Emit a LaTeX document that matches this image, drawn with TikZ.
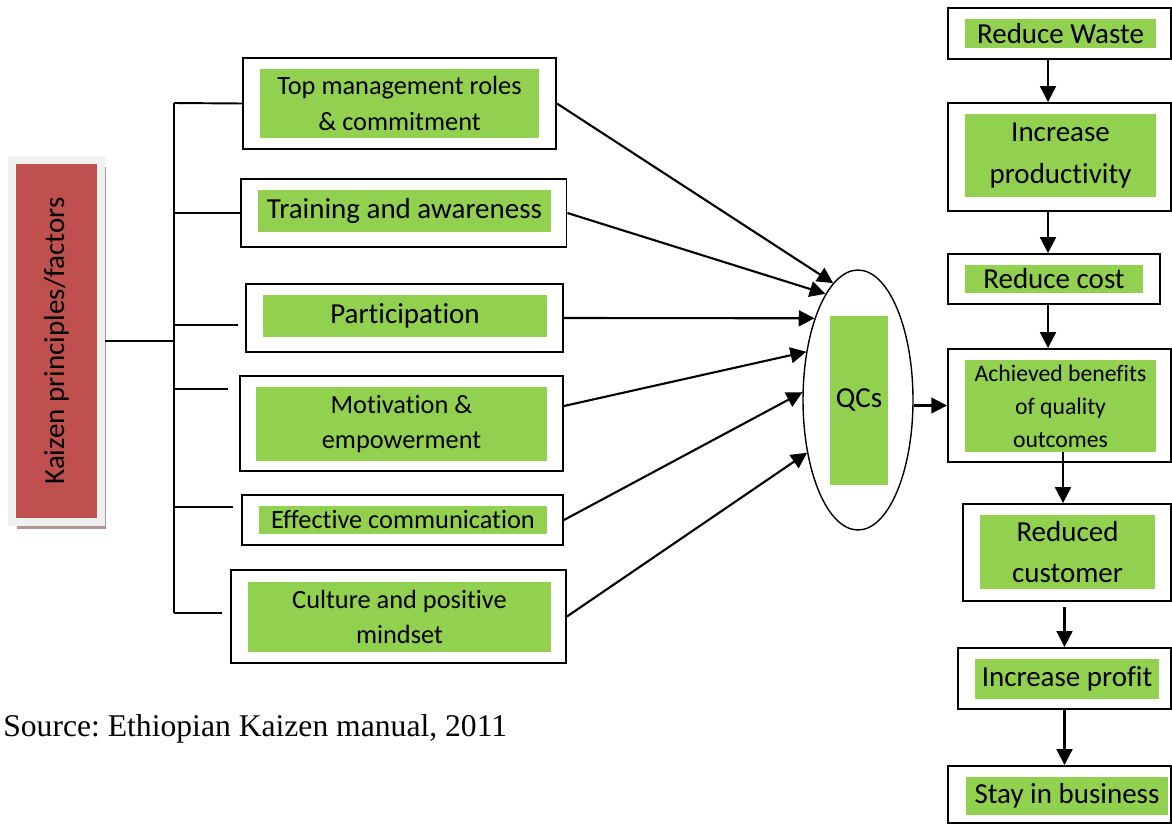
\documentclass[tikz,border=0pt]{standalone}
\usepackage{graphicx}
\usepackage{fontspec}
\setmainfont{Carlito}[Ligatures=NoCommon]
\newfontfamily\srcfont{Liberation Serif}
\usetikzlibrary{arrows.meta,shapes.geometric,shadows}
\definecolor{kgreen}{HTML}{92D050}
\definecolor{kred}{HTML}{C0504D}
\definecolor{kshade}{HTML}{B39494}

\begin{document}
\begin{tikzpicture}[
  x=0.02cm, y=-0.02cm,
  frame/.style={draw, line width=1.1pt, inner sep=0pt},
  greenbox/.style={fill=kgreen, inner sep=0pt, align=center},
  big/.style={font=\fontsize{16.5}{23.8}\selectfont},
  mid/.style={font=\fontsize{15}{20.4}\selectfont},
  small/.style={font=\fontsize{13.5}{18.7}\selectfont},
  arrow/.style={-{Triangle[length=9pt,width=9pt]}, line width=1.2pt},
  link/.style={line width=1.1pt}
]
\useasboundingbox (0,0) rectangle (1172,825);

% factor box
\node[draw=black!6, line width=4.5pt, fill=kred, inner sep=0pt, minimum width=1.78cm, minimum height=7.24cm, big,
  drop shadow={shadow xshift=0.1cm, shadow yshift=-0.14cm, fill=kshade, opacity=1}]
  (kz) at (56.5,341) {\rotatebox{90}{Kaizen principles/factors}};

% factors
\node[frame, minimum width=6.26cm, minimum height=1.82cm] (top) at (399.5,103.5) {};
\node[greenbox, mid, minimum width=5.6cm, minimum height=1.4cm] (topg) at (top) {Top management roles\\\& commitment};
\node[frame, minimum width=6.52cm, minimum height=1.36cm] (train) at (403.5,213) {};
\node[greenbox, big, minimum width=5.86cm, minimum height=0.84cm] (traing) at (404.5,211) {Training and awareness};
\node[frame, minimum width=6.34cm, minimum height=1.36cm] (part) at (404.5,318) {};
\node[greenbox, big, minimum width=5.68cm, minimum height=0.84cm] (partg) at (405,316) {Participation};
\node[frame, minimum width=6.46cm, minimum height=1.9cm] (motiv) at (401.5,423.5) {};
\node[greenbox, mid, minimum width=5.82cm, minimum height=1.48cm] (motivg) at (401.5,424) {Motivation \&\\empowerment};
\node[frame, minimum width=6.42cm, minimum height=1.0cm] (comm) at (402.5,520) {};
\node[greenbox, mid, minimum width=5.76cm, minimum height=0.56cm] (commg) at (403,520) {Effective communication};
\node[frame, minimum width=6.7cm, minimum height=1.86cm] (cult) at (398.5,616.5) {};
\node[greenbox, mid, minimum width=6.06cm, minimum height=1.4cm] (cultg) at (399.5,617) {Culture and positive\\mindset};

% quality circles
\node[draw, ellipse, line width=0.8pt, inner sep=0pt, minimum width=2.2cm, minimum height=5.2cm] (qc) at (858,400) {};
\node[greenbox, big, minimum width=1.16cm, minimum height=3.38cm] (qcg) at (859,400.5) {QCs};

% outcomes
\node[frame, minimum width=4.46cm, minimum height=1.02cm] (waste) at (1059.5,33.5) {};
\node[greenbox, big, minimum width=3.82cm, minimum height=0.58cm] (wasteg) at (1060.5,33.5) {Reduce Waste};
\node[frame, minimum width=4.46cm, minimum height=2.16cm] (prod) at (1059.5,157) {};
\node[greenbox, big, minimum width=3.82cm, minimum height=1.66cm] (prodg) at (1060.5,155.5) {Increase\\productivity};
\node[frame, minimum width=4.24cm, minimum height=1.0cm] (cost) at (1054,279) {};
\node[greenbox, big, minimum width=3.56cm, minimum height=0.56cm] (costg) at (1054,279) {Reduce cost};
\node[frame, minimum width=4.46cm, minimum height=2.26cm] (ach) at (1059.5,405.5) {};
\node[greenbox, small, minimum width=3.82cm, minimum height=1.84cm] (achg) at (1060.5,406) {Achieved benefits\\of quality\\outcomes};
\node[frame, minimum width=4.16cm, minimum height=1.94cm] (cust) at (1067,552.5) {};
\node[greenbox, big, minimum width=3.5cm, minimum height=1.48cm] (custg) at (1067.5,552) {Reduced\\customer};
\node[frame, minimum width=4.26cm, minimum height=1.22cm] (profit) at (1064.5,678.5) {};
\node[greenbox, big, minimum width=3.68cm, minimum height=0.8cm] (profitg) at (1067,679) {Increase profit};
\node[frame, minimum width=4.46cm, minimum height=1.14cm] (stay) at (1059.5,794.5) {};
\node[greenbox, big, minimum width=4.04cm, minimum height=0.76cm] (stayg) at (1067,796) {Stay in business};

\node[font=\srcfont\fontsize{18}{20}\selectfont, anchor=west, inner sep=0pt] (src) at (3,729) {Source:\ Ethiopian Kaizen manual, 2011};

% bracket
\coordinate (sp1) at (174,103);
\coordinate (sp2) at (174,613);
\coordinate (tk3) at (238,325);
\coordinate (tk4) at (228,389);
\coordinate (tk5) at (233,507);
\coordinate (tk6) at (222,613);
\draw[link] (sp1) -- (sp2);
\draw[link] (kz.east) -- (kz.east -| sp1);
\draw[link] (sp1) -- (top.west);
\draw[link] (sp1 |- train.west) -- (train.west);
\draw[link] (sp1 |- tk3) -- (tk3);
\draw[link] (sp1 |- tk4) -- (tk4);
\draw[link] (sp1 |- tk5) -- (tk5);
\draw[link] (sp1 |- tk6) -- (tk6);

% into the circle
\draw[arrow] (top.east) -- (qc.102);
\draw[arrow] (train.east) -- (qc.107);
\draw[arrow] (part.east) -- (qc.118);
\draw[arrow] ([yshift=0.35cm]motiv.east) -- (qc.137);
\draw[arrow] (comm.east) -- (qc.172);
\draw[arrow] (cult.east) -- (qc.226);
\draw[arrow] (qc.east |- ach.west) -- (ach.west);

% outcome chain
\draw[arrow] ([xshift=-0.23cm]waste.south) -- ([xshift=-0.23cm]prod.north);
\draw[arrow] ([xshift=-0.23cm]prod.south) -- ([xshift=-0.23cm]prod.south |- cost.north);
\draw[arrow] ([xshift=-0.12cm]cost.south) -- ([xshift=-0.12cm]cost.south |- ach.north);
\draw[arrow] ([xshift=-0.08cm]achg.south -| cust.north) -- ([xshift=-0.08cm]cust.north);
\draw[arrow] ([yshift=-0.1cm]cust.south -| profit.north) -- (profit.north);
\draw[arrow] (profit.south) -- (profit.south |- stay.north);
\end{tikzpicture}
\end{document}
